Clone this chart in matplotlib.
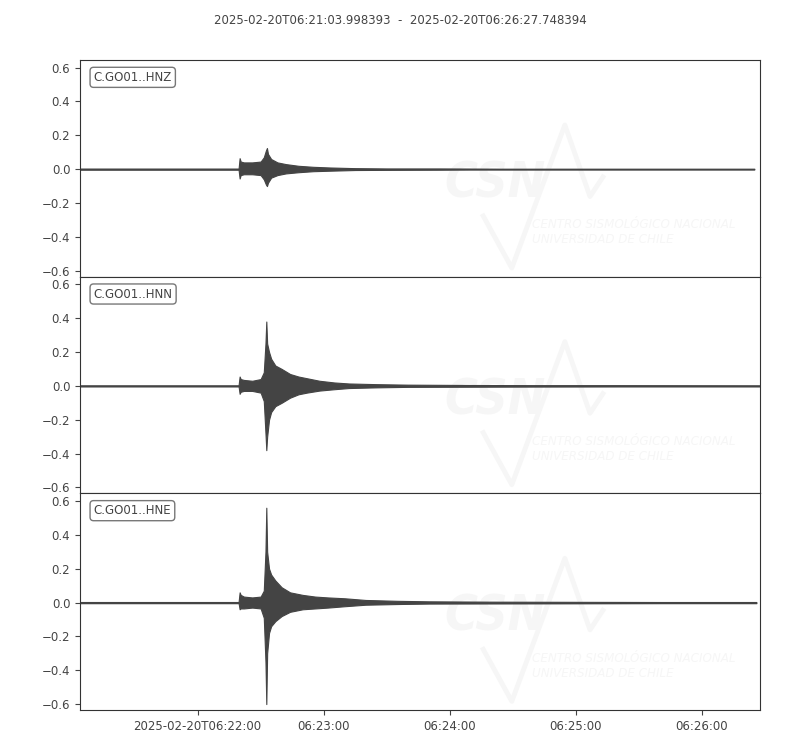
import matplotlib
matplotlib.use("Agg")
import matplotlib.pyplot as plt
import matplotlib.dates as mdates
import numpy as np
from datetime import datetime, timedelta

# trace window
t_start = datetime(2025, 2, 20, 6, 21, 3, 998393)
t_end = datetime(2025, 2, 20, 6, 26, 27, 748394)
title = "2025-02-20T06:21:03.998393  -  2025-02-20T06:26:27.748394"

channels = ["C.GO01..HNZ", "C.GO01..HNN", "C.GO01..HNE"]

# envelope, seconds after 06:22:00
hnz_t = [-56, 19.5, 20, 20.5, 22, 26, 30, 31.5, 32.5, 33, 33.5, 35, 38, 42, 48, 55, 63, 75, 90, 115, 130, 145, 265]
hnz_up = [0.003, 0.003, 0.065, 0.045, 0.04, 0.04, 0.045, 0.07, 0.11, 0.125, 0.09, 0.06, 0.04, 0.03, 0.02, 0.014, 0.01, 0.006, 0.004, 0.004, 0.003, 0.002, 0.002]
hnz_lo = [-0.003, -0.003, -0.055, -0.035, -0.03, -0.03, -0.035, -0.06, -0.09, -0.10, -0.08, -0.05, -0.035, -0.025, -0.018, -0.012, -0.009, -0.005, -0.004, -0.003, -0.002, -0.002, -0.002]

hnn_t = [-56, 19.5, 20, 20.5, 22, 26, 30, 31.5, 32.3, 32.7, 33.1, 34, 35, 37, 40, 44, 48, 52, 58, 65, 72, 85, 100, 130, 160, 200, 268]
hnn_up = [0.003, 0.003, 0.055, 0.04, 0.035, 0.03, 0.04, 0.08, 0.25, 0.38, 0.25, 0.2, 0.16, 0.12, 0.1, 0.07, 0.055, 0.045, 0.03, 0.02, 0.014, 0.01, 0.007, 0.005, 0.004, 0.004, 0.003]
hnn_lo = [-0.003, -0.003, -0.047, -0.035, -0.03, -0.03, -0.04, -0.09, -0.28, -0.38, -0.3, -0.2, -0.155, -0.12, -0.1, -0.07, -0.05, -0.04, -0.028, -0.02, -0.013, -0.009, -0.006, -0.005, -0.004, -0.003, -0.003]

hne_t = [-56, 19.5, 20, 20.5, 22, 26, 30, 31.5, 32.3, 32.7, 33.1, 34, 35, 37, 40, 44, 50, 56, 62, 70, 80, 95, 110, 140, 180, 220, 266]
hne_up = [0.003, 0.003, 0.06, 0.045, 0.035, 0.03, 0.035, 0.07, 0.3, 0.56, 0.3, 0.2, 0.165, 0.13, 0.09, 0.06, 0.045, 0.035, 0.03, 0.025, 0.015, 0.01, 0.007, 0.005, 0.004, 0.003, 0.003]
hne_lo = [-0.003, -0.003, -0.04, -0.035, -0.035, -0.03, -0.035, -0.09, -0.35, -0.60, -0.3, -0.18, -0.14, -0.11, -0.08, -0.055, -0.04, -0.035, -0.03, -0.022, -0.013, -0.009, -0.006, -0.005, -0.004, -0.003, -0.003]

traces = [(hnz_t, hnz_up, hnz_lo), (hnn_t, hnn_up, hnn_lo), (hne_t, hne_up, hne_lo)]

yticks = [-0.6, -0.4, -0.2, 0.0, 0.2, 0.4, 0.6]
xticks = ["06:22:00", "06:23:00", "06:24:00", "06:25:00", "06:26:00"]

gray = "#444444"
wm = "#f6f6f6"
plt.rcParams["font.family"] = ["DejaVu Sans"]
plt.rcParams["font.size"] = 8.5
plt.rcParams["text.color"] = gray
plt.rcParams["axes.edgecolor"] = "#333333"
plt.rcParams["xtick.color"] = gray
plt.rcParams["ytick.color"] = gray

ref = datetime(2025, 2, 20, 6, 22, 0)

fig = plt.figure(figsize=(8, 7.5), dpi=100)
left, right, top, bottom = 0.1, 0.95, 1 - 60 / 750, 1 - 710 / 750
h = (top - bottom) / 3
axes = []
for i, (ch, (tt, up, lo)) in enumerate(zip(channels, traces)):
    ax = fig.add_axes([left, top - (i + 1) * h, right - left, h])
    axes.append(ax)

    # faint logo watermark
    ax.plot([0.593, 0.635, 0.713, 0.75, 0.769], [0.28, 0.04, 0.70, 0.37, 0.46],
            transform=ax.transAxes, color=wm, linewidth=3.5, zorder=0)
    ax.text(0.61, 0.43, "CSN", transform=ax.transAxes, fontsize=36, stretch="condensed",
            fontstyle="italic", fontweight="bold", color=wm, ha="center", va="center", zorder=0)
    ax.text(0.665, 0.205, "CENTRO SISMOLÓGICO NACIONAL\nUNIVERSIDAD DE CHILE", transform=ax.transAxes,
            fontsize=9.5, stretch="condensed", fontstyle="italic", color=wm, ha="left", va="center",
            linespacing=1.2, zorder=0, clip_on=True)

    x = [mdates.date2num(ref + timedelta(seconds=s)) for s in tt]
    ax.fill_between(x, lo, up, color=gray, linewidth=0.8, edgecolor=gray)
    ax.plot(x, np.zeros(len(x)), color=gray, linewidth=1)

    ax.text(0.02, 0.95, ch, transform=ax.transAxes, ha="left", va="top", fontsize=8.5,
            bbox=dict(boxstyle="round,pad=0.3", facecolor="white", edgecolor="#777777"))
    ax.set_ylim(-0.635, 0.645)
    ax.set_yticks(yticks)
    ax.set_xlim(mdates.date2num(t_start), mdates.date2num(t_end))
    tick_pos = [mdates.date2num(datetime.strptime("2025-02-20 " + s, "%Y-%m-%d %H:%M:%S")) for s in xticks]
    ax.set_xticks(tick_pos)
    if i < 2:
        ax.set_xticklabels([])
        ax.tick_params(axis="x", length=0)
    else:
        ax.set_xticklabels(["2025-02-20T" + xticks[0]] + xticks[1:])

fig.text(0.5, 1 - 20 / 750, title, ha="center", va="center", fontsize=8.5)

fig.savefig("out.png", dpi=100)
